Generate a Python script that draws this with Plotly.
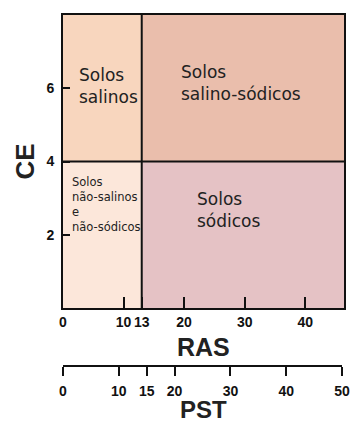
import plotly.graph_objects as go

# ---- data ----
ras_ticks = [0, 10, 13, 20, 30, 40]
ce_ticks = [2, 4, 6]
pst_ticks = [0, 10, 15, 20, 30, 40, 50]
ras_limit = 13
ce_limit = 4
ras_max = 46.4
ce_max = 8
pst_max = 50

region_names = ["Solos<br>salinos", "Solos<br>salino-sódicos",
                "Solos<br>não-salinos<br>e<br>não-sódicos", "Solos<br>sódicos"]
region_ras = [(0, ras_limit), (ras_limit, ras_max), (0, ras_limit), (ras_limit, ras_max)]
region_ce = [(ce_limit, ce_max), (ce_limit, ce_max), (0, ce_limit), (0, ce_limit)]

# ---- styles ----
region_colors = ["#F8D6BE", "#EABEAC", "#FCE7DA", "#E5C2C5"]
label_pos = [(2.3, 6.05), (19.1, 6.15), (1.15, 2.84), (21.8, 2.68)]
label_sizes = [17, 17, 11.5, 17]

fig = go.Figure()
for (x0, x1), (y0, y1), col in zip(region_ras, region_ce, region_colors):
    fig.add_trace(go.Scatter(x=[x0, x1, x1, x0, x0], y=[y0, y0, y1, y1, y0],
                             fill="toself", fillcolor=col, mode="lines",
                             line=dict(width=0), hoverinfo="skip", showlegend=False))

# dividers
fig.add_trace(go.Scatter(x=[ras_limit, ras_limit], y=[0, ce_max], mode="lines",
                         line=dict(color="#111", width=2), hoverinfo="skip", showlegend=False))
fig.add_trace(go.Scatter(x=[0, ras_max], y=[ce_limit, ce_limit], mode="lines",
                         line=dict(color="#111", width=2), hoverinfo="skip", showlegend=False))

# invisible trace for PST axis
fig.add_trace(go.Scatter(x=[0, pst_max], y=[0, 0], xaxis="x2", yaxis="y", mode="markers",
                         marker=dict(opacity=0), hoverinfo="skip", showlegend=False))

for name, (lx, ly), fs in zip(region_names, label_pos, label_sizes):
    fig.add_annotation(x=lx, y=ly, xref="x", yref="y", text=name, showarrow=False,
                       xanchor="left", yanchor="middle", align="left",
                       font=dict(family="DejaVu Sans", size=fs, color="#222"))

tickfont = dict(family="Liberation Sans", size=14, color="#111", weight="bold")

fig.update_layout(
    width=350, height=424,
    margin=dict(l=63, r=6, t=15, b=58, autoexpand=False),
    paper_bgcolor="white", plot_bgcolor="rgba(0,0,0,0)",
    showlegend=False,
    xaxis=dict(range=[0, ras_max], tickvals=ras_ticks, ticks="inside", ticklen=11,
               tickwidth=2, tickcolor="#111", showline=True, linewidth=2, linecolor="#111",
               mirror=True, showgrid=False, zeroline=False, tickfont=tickfont, tickangle=0,
               ticklabelstandoff=0, anchor="y", fixedrange=True, automargin=False),
    yaxis=dict(range=[0, ce_max], tickvals=ce_ticks, ticks="inside", ticklen=7,
               tickwidth=2, tickcolor="#111", showline=True, linewidth=2, linecolor="#111",
               mirror=True, showgrid=False, zeroline=False, tickfont=tickfont,
               domain=[0.165, 1], ticklabelstandoff=4, fixedrange=True, automargin=False),
    xaxis2=dict(range=[0, pst_max], tickvals=pst_ticks, ticks="outside", ticklen=9,
                tickwidth=2, tickcolor="#111", showline=True, linewidth=2, linecolor="#111",
                showgrid=False, zeroline=False, tickfont=tickfont, anchor="free", tickangle=0,
                position=0, domain=[0, 0.993], side="bottom", ticklabelstandoff=3,
                ticklabeloverflow="allow", fixedrange=True, automargin=False),
)

titlefont = dict(family="Liberation Sans", size=25, color="#222", weight="bold")
fig.add_annotation(x=0.5, y=0.054, xref="paper", yref="paper", text="RAS",
                   showarrow=False, xanchor="center", yanchor="middle", font=titlefont)
fig.add_annotation(x=0.5, y=-0.125, xref="paper", yref="paper", text="PST",
                   showarrow=False, xanchor="center", yanchor="middle",
                   font=dict(family="Liberation Sans", size=24, color="#222", weight="bold"))
fig.add_annotation(x=-0.135, y=0.583, xref="paper", yref="paper", text="CE", textangle=-90,
                   showarrow=False, xanchor="center", yanchor="middle",
                   font=dict(family="Liberation Sans", size=26, color="#222", weight="bold"))

fig.write_html("out.html", config={"displayModeBar": False},
               post_script="document.body.style.margin='0';document.body.style.overflow='hidden';")
